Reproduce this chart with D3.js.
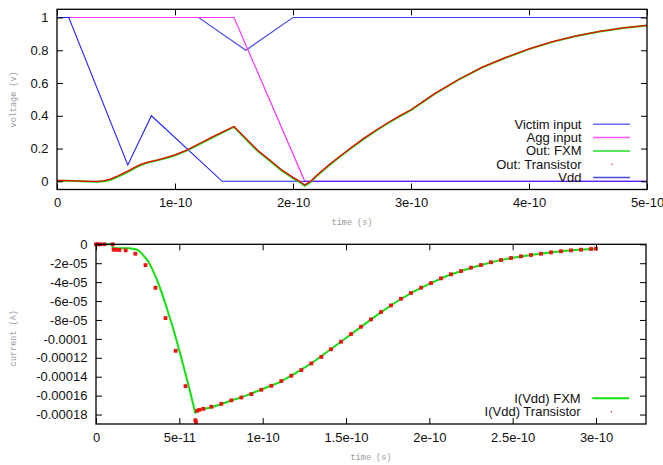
<!DOCTYPE html>
<meta charset="utf-8">
<style>
	body { margin: 0; background: #fff; }
	.axis text {
		font: 13px "Liberation Sans", Arial, sans-serif;
		fill: #111;
	}
	.axis line { stroke: #000; }
	.axis path { display: none; }
	.border { fill: none; stroke: #000; stroke-width: 1.3px; }
	.title {
		font: 8.5px "Liberation Mono", "DejaVu Sans Mono", monospace;
		fill: #999;
	}
	.legend text {
		font: 13px "Liberation Sans", Arial, sans-serif;
		fill: #111;
	}
	.line { fill: none; }
</style>
<svg width="663" height="465"></svg>
<script src="https://cdn.jsdelivr.net/npm/d3@7"></script>
<script>

// ---- top panel: voltages ----
var vTicks = [0, 1e-10, 2e-10, 3e-10, 4e-10, 5e-10];
var vTickLabels = ["0", "1e-10", "2e-10", "3e-10", "4e-10", "5e-10"];
var vYTicks = [0, 0.2, 0.4, 0.6, 0.8, 1];
var vYTickLabels = ["0", "0.2", "0.4", "0.6", "0.8", "1"];

var victimTime = [0, 1e-11, 6e-11, 8e-11, 1.4e-10, 5e-10];
var victimV = [1, 1, 0.1, 0.4, 0, 0];

var aggTime = [0, 1.5e-10, 2.1e-10, 5e-10];
var aggV = [1, 1, 0, 0];

var vddTime = [0, 1.2e-10, 1.6e-10, 2e-10, 5e-10];
var vddV = [1, 1, 0.8, 1, 1];

var outTime = [0, 0.1e-10, 0.2e-10, 0.3e-10, 0.35e-10, 0.4e-10, 0.45e-10, 0.5e-10, 0.55e-10, 0.6e-10,
	0.65e-10, 0.7e-10, 0.75e-10, 0.8e-10, 0.85e-10, 0.9e-10, 0.95e-10, 1.0e-10,
	1.1e-10, 1.2e-10, 1.3e-10, 1.4e-10, 1.5e-10,
	1.6e-10, 1.7e-10, 1.8e-10, 1.9e-10, 2.0e-10,
	2.05e-10, 2.1e-10, 2.15e-10, 2.2e-10,
	2.3e-10, 2.4e-10, 2.5e-10, 2.6e-10, 2.7e-10, 2.8e-10, 2.9e-10, 3.0e-10,
	3.2e-10, 3.4e-10, 3.6e-10, 3.8e-10, 4.0e-10,
	4.2e-10, 4.4e-10, 4.6e-10, 4.8e-10, 5.0e-10];
var outFxm = [0.004, 0.003, 0.0, -0.002, -0.002, 0.0, 0.008, 0.022, 0.04, 0.057,
	0.077, 0.096, 0.11, 0.12, 0.128, 0.137, 0.147, 0.159,
	0.187, 0.224, 0.261, 0.297, 0.332,
	0.258, 0.186, 0.127, 0.068, 0.02,
	-0.002, -0.027, -0.004, 0.032,
	0.094, 0.151, 0.206, 0.259, 0.307, 0.353, 0.395, 0.435,
	0.533, 0.619, 0.694, 0.754, 0.807,
	0.851, 0.887, 0.914, 0.936, 0.951];
var outTransistor = [0.005, 0.004, 0.001, -0.001, 0.0, 0.004, 0.013, 0.028, 0.045, 0.062,
	0.082, 0.1, 0.113, 0.122, 0.13, 0.14, 0.15, 0.162,
	0.19, 0.228, 0.265, 0.3, 0.335,
	0.262, 0.19, 0.131, 0.072, 0.024,
	0.003, -0.022, 0.0, 0.035,
	0.098, 0.155, 0.21, 0.262, 0.31, 0.356, 0.398, 0.437,
	0.535, 0.62, 0.695, 0.755, 0.808,
	0.852, 0.888, 0.915, 0.937, 0.952];

// ---- bottom panel: current ----
var iTicks = [0, 5e-11, 1e-10, 1.5e-10, 2e-10, 2.5e-10, 3e-10];
var iTickLabels = ["0", "5e-11", "1e-10", "1.5e-10", "2e-10", "2.5e-10", "3e-10"];
var iYTicks = [0, -2e-5, -4e-5, -6e-5, -8e-5, -1e-4, -1.2e-4, -1.4e-4, -1.6e-4, -1.8e-4];
var iYTickLabels = ["0", "-2e-05", "-4e-05", "-6e-05", "-8e-05", "-0.0001", "-0.00012", "-0.00014", "-0.00016", "-0.00018"];

var iFxmTime = [0, 1e-11, 1e-11, 2e-11, 2.3e-11, 2.5e-11, 2.65e-11, 2.8e-11, 3e-11, 3.15e-11,
	3.4e-11, 3.65e-11, 3.9e-11, 4.15e-11, 4.4e-11, 4.65e-11, 4.9e-11, 5.15e-11, 5.4e-11, 5.65e-11, 5.96e-11,
	6e-11, 7e-11, 8e-11, 9e-11, 1e-10, 1.1e-10, 1.2e-10, 1.3e-10, 1.4e-10, 1.5e-10,
	1.6e-10, 1.7e-10, 1.8e-10, 1.9e-10, 2e-10, 2.1e-10, 2.2e-10, 2.3e-10, 2.4e-10, 2.5e-10,
	2.6e-10, 2.7e-10, 2.8e-10, 2.9e-10, 3e-10];
var iFxm = [0, 0, -0.42e-5, -0.43e-5, -0.5e-5, -0.6e-5, -0.8e-5, -1.1e-5, -1.5e-5, -1.85e-5,
	-2.7e-5, -3.7e-5, -4.9e-5, -6.2e-5, -7.6e-5, -9.0e-5, -10.6e-5, -12.2e-5, -13.9e-5, -15.6e-5, -17.9e-5,
	-17.6e-5, -17.2e-5, -16.6e-5, -16.0e-5, -15.3e-5, -14.6e-5, -13.6e-5, -12.5e-5, -11.2e-5, -9.9e-5,
	-8.6e-5, -7.3e-5, -6.1e-5, -5.05e-5, -4.18e-5, -3.38e-5, -2.77e-5, -2.24e-5, -1.78e-5, -1.42e-5,
	-1.15e-5, -0.92e-5, -0.72e-5, -0.58e-5, -0.46e-5];

var iTrTime = [0, 0.1e-11, 0.24e-11, 0.5e-11, 1.0e-11, 1.06e-11, 1.2e-11, 1.4e-11, 1.78e-11, 2.36e-11,
	2.97e-11, 3.57e-11, 4.17e-11, 4.78e-11, 5.37e-11, 5.96e-11, 6.0e-11, 6.07e-11, 6.2e-11, 6.44e-11,
	6.92e-11, 7.52e-11, 8.12e-11, 8.72e-11, 9.32e-11, 9.92e-11, 10.52e-11, 11.12e-11, 11.72e-11, 12.32e-11,
	12.92e-11, 13.52e-11, 14.1e-11, 14.7e-11, 15.3e-11, 15.9e-11, 16.5e-11, 17.1e-11, 17.7e-11, 18.3e-11,
	18.9e-11, 19.5e-11, 20.1e-11, 20.7e-11, 21.3e-11, 21.9e-11, 22.5e-11, 23.1e-11, 23.7e-11, 24.3e-11,
	24.9e-11, 25.5e-11, 26.1e-11, 26.7e-11, 27.3e-11, 27.9e-11, 28.5e-11, 29.1e-11, 29.7e-11, 30.0e-11];
var iTr = [0, 0, 0, 0, 0, -0.57e-5, -0.57e-5, -0.6e-5, -0.64e-5, -1.0e-5,
	-2.2e-5, -4.6e-5, -7.8e-5, -11.26e-5, -15.0e-5, -18.6e-5, -18.8e-5, -17.6e-5, -17.5e-5, -17.4e-5,
	-17.18e-5, -16.87e-5, -16.5e-5, -16.2e-5, -15.84e-5, -15.38e-5, -14.96e-5, -14.46e-5, -13.9e-5, -13.3e-5,
	-12.6e-5, -11.9e-5, -11.1e-5, -10.3e-5, -9.49e-5, -8.72e-5, -7.94e-5, -7.16e-5, -6.46e-5, -5.76e-5,
	-5.15e-5, -4.59e-5, -4.1e-5, -3.6e-5, -3.17e-5, -2.83e-5, -2.47e-5, -2.19e-5, -1.9e-5, -1.66e-5,
	-1.45e-5, -1.27e-5, -1.13e-5, -1.0e-5, -0.85e-5, -0.74e-5, -0.64e-5, -0.57e-5, -0.5e-5, -0.46e-5];

var svg = d3.select("svg");

function zip(xs, ys) {
	return xs.map(function(t, i) { return [t, ys[i]]; });
}

function frame(g, x, y, xt, xl, yt, yl) {
	var w = x.range()[1], h = y.range()[0];
	g.append("g").attr("class", "axis")
		.attr("transform", "translate(0," + h + ")")
		.call(d3.axisBottom(x).tickValues(xt).tickFormat(function(d, i) { return xl[i]; })
			.tickSizeInner(-6).tickSizeOuter(0).tickPadding(8.5))
		.selectAll("text").attr("dy", "0.71em");
	g.append("g").attr("class", "axis")
		.call(d3.axisTop(x).tickValues(xt).tickFormat("").tickSizeInner(-6).tickSizeOuter(0));
	g.append("g").attr("class", "axis")
		.call(d3.axisLeft(y).tickValues(yt).tickFormat(function(d, i) { return yl[i]; })
			.tickSizeInner(-6).tickSizeOuter(0).tickPadding(8.5));
	g.append("g").attr("class", "axis")
		.attr("transform", "translate(" + w + ",0)")
		.call(d3.axisRight(y).tickValues(yt).tickFormat("").tickSizeInner(-6).tickSizeOuter(0));
	g.append("rect").attr("class", "border")
		.attr("x", 0).attr("y", 0).attr("width", w).attr("height", h);
}

function legend(g, x0, y0, items) {
	var lg = g.append("g").attr("class", "legend");
	items.forEach(function(it, i) {
		var yy = y0 + i * 13.3;
		lg.append("text").attr("x", x0).attr("y", yy).attr("dy", "0.35em")
			.attr("text-anchor", "end").text(it.name);
		if (it.dot) {
			lg.append("rect").attr("x", x0 + 30).attr("y", yy - 0.5)
				.attr("width", 1.2).attr("height", 1.2).attr("fill", it.color);
		} else {
			lg.append("line").attr("x1", x0 + 11.5).attr("x2", x0 + 48.5)
				.attr("y1", yy).attr("y2", yy)
				.attr("stroke", it.color).attr("stroke-width", it.width);
		}
	});
}

// top
var m1 = {left: 57, top: 9.3},
	w1 = 590, h1 = 180.2,
	g1 = svg.append("g").attr("transform", "translate(" + m1.left + "," + m1.top + ")");

var x1 = d3.scaleLinear().domain([0, 5e-10]).range([0, w1]),
	y1 = d3.scaleLinear().domain([-0.05, 1.05]).range([h1, 0]);

var line1 = d3.line()
	.x(function(d) { return x1(d[0]); })
	.y(function(d) { return y1(d[1]); });

g1.append("path").attr("class", "line").attr("d", line1(zip(vddTime, vddV)))
	.attr("stroke", "#4a4aee").attr("stroke-width", 1.2);
g1.append("path").attr("class", "line").attr("d", line1(zip(aggTime, aggV)))
	.attr("stroke", "#ff33ff").attr("stroke-width", 1.2);
g1.append("path").attr("class", "line").attr("d", line1(zip(victimTime, victimV)))
	.attr("stroke", "#2020ff").attr("stroke-width", 1.1);
g1.append("path").attr("class", "line").attr("d", line1(zip(outTime, outFxm)))
	.attr("stroke", "#11e011").attr("stroke-width", 2);
g1.append("path").attr("class", "line").attr("d", line1(zip(outTime, outTransistor)))
	.attr("stroke", "#ff0000").attr("stroke-width", 1.3);

frame(g1, x1, y1, vTicks, vTickLabels, vYTicks, vYTickLabels);

legend(svg, 581.5, 124.3, [
	{name: "Victim input", color: "#6a6aff", width: 1.5},
	{name: "Agg input", color: "#ff55ff", width: 1.5},
	{name: "Out: FXM", color: "#22dd22", width: 1.5},
	{name: "Out: Transistor", color: "#ff0000", dot: true},
	{name: "Vdd", color: "#4a4add", width: 1.5}
]);

svg.append("text").attr("class", "title")
	.attr("transform", "translate(13," + (m1.top + h1 / 2) + ") rotate(-90)")
	.attr("text-anchor", "middle").attr("dy", "0.35em").text("voltage (v)");
svg.append("text").attr("class", "title")
	.attr("x", m1.left + w1 / 2).attr("y", 222).attr("dy", "0.35em")
	.attr("text-anchor", "middle").text("time (s)");

// bottom
var m2 = {left: 96, top: 244.3},
	w2 = 550, h2 = 179.7,
	g2 = svg.append("g").attr("transform", "translate(" + m2.left + "," + m2.top + ")");

var x2 = d3.scaleLinear().domain([0, 3.3e-10]).range([0, w2]),
	y2 = d3.scaleLinear().domain([-1.9e-4, 0]).range([h2, 0]);

var line2 = d3.line()
	.x(function(d) { return x2(d[0]); })
	.y(function(d) { return y2(d[1]); });

g2.append("path").attr("class", "line").attr("d", line2(zip(iFxmTime, iFxm)))
	.attr("stroke", "#11e011").attr("stroke-width", 2);

g2.selectAll(".pt").data(zip(iTrTime, iTr)).enter().append("rect")
	.attr("class", "pt")
	.attr("x", function(d) { return x2(d[0]) - 1.9; })
	.attr("y", function(d) { return y2(d[1]) - 1.9; })
	.attr("width", 3.8).attr("height", 3.8)
	.attr("fill", "#f01010");

frame(g2, x2, y2, iTicks, iTickLabels, iYTicks, iYTickLabels);

legend(svg, 580.7, 398.3, [
	{name: "I(Vdd) FXM", color: "#11e011", width: 2},
	{name: "I(Vdd) Transistor", color: "#ff0000", dot: true}
]);

svg.append("text").attr("class", "title")
	.attr("transform", "translate(13," + (m2.top + h2 / 2 + 4) + ") rotate(-90)")
	.attr("text-anchor", "middle").attr("dy", "0.35em").text("current (A)");
svg.append("text").attr("class", "title")
	.attr("x", m2.left + w2 / 2).attr("y", 457.5).attr("dy", "0.35em")
	.attr("text-anchor", "middle").text("time (s)");

</script>
